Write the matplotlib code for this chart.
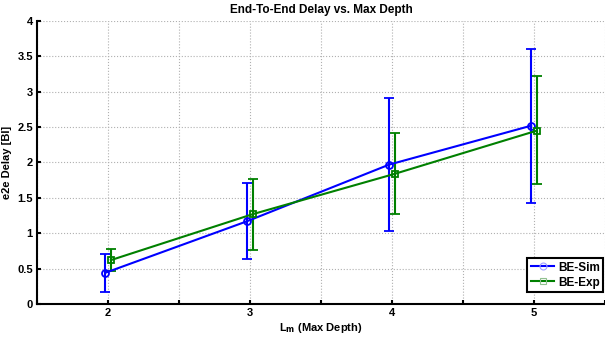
import matplotlib.pyplot as plt
from matplotlib.lines import Line2D
import numpy as np

plt.rcParams['font.family'] = ['Liberation Sans', 'DejaVu Sans']
plt.rcParams['font.weight'] = 'bold'

depth = np.array([2, 3, 4, 5])
sim_mean = [0.44, 1.17, 1.97, 2.52]
sim_low = [0.17, 0.64, 1.03, 1.43]
sim_high = [0.71, 1.71, 2.91, 3.61]
exp_mean = [0.62, 1.27, 1.84, 2.45]
exp_low = [0.47, 0.77, 1.27, 1.69]
exp_high = [0.78, 1.77, 2.42, 3.22]

fig = plt.figure(figsize=(6.05, 3.37), dpi=100)
ax = fig.add_axes([0.0612, 0.098, 0.9388, 0.8397])

sim_err = [np.subtract(sim_mean, sim_low), np.subtract(sim_high, sim_mean)]
exp_err = [np.subtract(exp_mean, exp_low), np.subtract(exp_high, exp_mean)]

ax.errorbar(depth - 0.02, sim_mean, yerr=sim_err, color='#0000ff', lw=1.5,
            marker='o', ms=5, mfc='none', mew=1.3, capsize=3.5, capthick=1.5,
            zorder=3)
ax.errorbar(depth + 0.02, exp_mean, yerr=exp_err, color='#008000', lw=1.5,
            marker='s', ms=4.5, mfc='none', mew=1.3, capsize=3.5, capthick=1.5,
            zorder=3)

ax.set_xlim(1.5, 5.5)
ax.set_ylim(0, 4)
ax.set_xticks(np.arange(1.5, 5.51, 0.5))
ax.set_xticklabels(['' if v % 1 else str(int(v)) for v in np.arange(1.5, 5.51, 0.5)])
ax.set_yticks(np.arange(0, 4.01, 0.5))
ax.set_yticklabels(['0', '0.5', '1', '1.5', '2', '2.5', '3', '3.5', '4'])
ax.tick_params(direction='in', length=3, width=1.5, labelsize=8, pad=3)
ax.grid(True, color='#b0b0b0', linestyle=':', linewidth=0.8)

for s in ['top', 'right']:
    ax.spines[s].set_visible(False)
for s in ['left', 'bottom']:
    ax.spines[s].set_linewidth(1.5)

ax.set_title('End-To-End Delay vs. Max Depth', fontsize=8.5, fontweight='bold', pad=6)
ax.set_xlabel('L$_\\mathbf{m}$ (Max Depth)', fontsize=8, fontweight='bold', labelpad=2)
ax.set_ylabel('e2e Delay [BI]', fontsize=8, fontweight='bold', labelpad=4)

handles = [
    Line2D([], [], color='#0000ff', lw=1.5, marker='o', ms=5, mfc='none',
           mec='#a0a0ff', mew=0.8),
    Line2D([], [], color='#008000', lw=1.5, marker='s', ms=4.5, mfc='none',
           mec='#90c090', mew=0.8),
]
leg = ax.legend(handles, ['BE-Sim', 'BE-Exp'], loc='lower right',
                bbox_to_anchor=(0.997, 0.042), borderaxespad=0,
                fontsize=8.5, frameon=True, fancybox=False,
                handlelength=2.0, handletextpad=0.3, borderpad=0.3,
                labelspacing=0.25)
leg.get_frame().set_edgecolor('black')
leg.get_frame().set_linewidth(1.5)
leg.get_frame().set_alpha(1)

fig.savefig('out.png', dpi=100)
